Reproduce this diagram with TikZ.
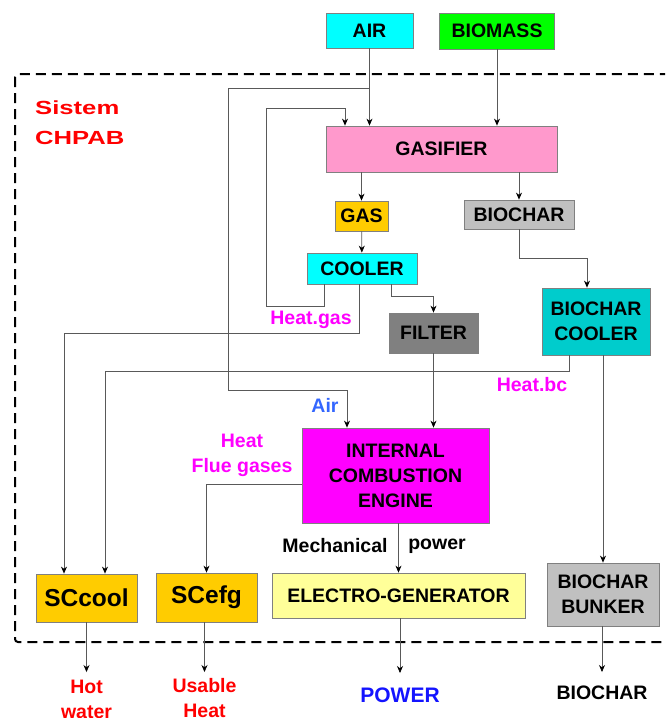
\documentclass[tikz,border=0pt]{standalone}
\usepackage{fontspec}
\setmainfont{Liberation Sans}
\newfontfamily\widefont{Liberation Sans}[FakeStretch=1.35]
\usetikzlibrary{arrows.meta}
\definecolor{aircyan}{RGB}{0,255,255}
\definecolor{biogreen}{RGB}{0,255,0}
\definecolor{gasifierpink}{RGB}{255,153,204}
\definecolor{gasgold}{RGB}{255,204,0}
\definecolor{charsilver}{RGB}{192,192,192}
\definecolor{filtergray}{RGB}{128,128,128}
\definecolor{coolerteal}{RGB}{0,204,204}
\definecolor{enginemagenta}{RGB}{255,0,255}
\definecolor{genyellow}{RGB}{255,255,153}
\definecolor{heatpink}{RGB}{255,0,255}
\definecolor{airblue}{RGB}{51,102,255}
\definecolor{powerblue}{RGB}{20,20,255}

\begin{document}
\begin{tikzpicture}[x=1pt,y=-1pt,
    font=\fontsize{19.5}{25}\selectfont\bfseries,
    unit/.style={draw=black!50, line width=0.8pt, align=center, inner sep=0pt},
    flow/.style={draw=black!65, line width=0.7pt, -{Stealth[length=7pt,width=6pt,color=black]}},
    lbl/.style={align=center, inner sep=0pt},
    outlbl/.style={align=center, anchor=north, inner xsep=0pt, inner ysep=7pt}]
  \useasboundingbox (0,0) rectangle (665,718);
  \clip (0,0) rectangle (665,718);
  % system border
  \draw[line width=2pt, dash pattern=on 10pt off 6pt, rounded corners=3pt] (15,74) rectangle (690,642);
  \node[lbl, text=red, anchor=west, align=left, font={\widefont\fontsize{19}{30}\selectfont\bfseries}] (sys) at (35,123) {Sistem\\CHPAB};
  % units
  \node[unit, fill=aircyan, minimum width=87, minimum height=35] (air) at (369.5,30.5) {AIR};
  \node[unit, fill=biogreen, minimum width=115, minimum height=36] (biomass) at (497,31) {BIOMASS};
  \node[unit, fill=gasifierpink, minimum width=231, minimum height=46] (gasifier) at (441.5,149) {GASIFIER};
  \node[unit, fill=gasgold, minimum width=53, minimum height=30] (gas) at (361.5,216) {GAS};
  \node[unit, fill=charsilver, minimum width=110, minimum height=29] (bc) at (519,214.5) {BIOCHAR};
  \node[unit, fill=aircyan, minimum width=110, minimum height=31] (cooler) at (362,268.5) {COOLER};
  \node[unit, fill=filtergray, minimum width=89, minimum height=40] (filter) at (433.5,333) {FILTER};
  \node[unit, fill=coolerteal, minimum width=108, minimum height=67] (bcool) at (596,321.5) {BIOCHAR\\COOLER};
  \node[unit, fill=enginemagenta, minimum width=187, minimum height=95] (ice) at (395.5,475.5) {INTERNAL\\COMBUSTION\\ENGINE};
  \node[unit, fill=gasgold, minimum width=101, minimum height=48, font=\fontsize{24.5}{28}\selectfont\bfseries] (sccool) at (86.5,598) {SCcool};
  \node[unit, fill=gasgold, minimum width=101, minimum height=49, font=\fontsize{24.5}{28}\selectfont\bfseries] (scefg) at (206.5,597.5) {SCefg};
  \node[unit, fill=genyellow, minimum width=253, minimum height=45] (electro) at (398.5,595.5) {ELECTRO-GENERATOR};
  \node[unit, fill=charsilver, minimum width=112, minimum height=63] (bunker) at (603,594.5) {BIOCHAR\\BUNKER};
  % labels on the streams
  \node[lbl, text=heatpink] (heatgas) at (311,320) {Heat.gas};
  \node[lbl, text=heatpink] (heatbc) at (532,385) {Heat.bc};
  \node[lbl, text=airblue] (airlbl) at (325,405) {Air};
  \node[lbl, text=heatpink] (heatfg) at (242,455) {Heat\\Flue gases};
  \node[lbl] (mech) at (335,546) {Mechanical};
  \node[lbl] (mpower) at (437,546) {power};
  % products
  \node[outlbl, text=red, inner ysep=8pt] (hot) at (86.5,672) {Hot\\water};
  \node[outlbl, text=red, inner ysep=6pt] (usable) at (204.5,672) {Usable\\Heat};
  \node[outlbl, text=powerblue, inner ysep=15pt, font=\fontsize{21}{25}\selectfont\bfseries] (power) at (400,673) {POWER};
  \node[outlbl, inner ysep=14pt] (charout) at (602,672) {BIOCHAR};
  % streams
  \draw[flow] (air) -- (air.south |- gasifier.north);
  \coordinate (airsplit) at ([yshift=-40pt]air.south);
  \coordinate (airbend) at (228,390);
  \draw[flow] (airsplit) -| (airbend) -| ([xshift=-48.5pt]ice.north);
  \draw[flow] (biomass) -- (biomass.south |- gasifier.north);
  \draw[flow] (gas.north |- gasifier.south) -- (gas);
  \draw[flow] (bc.north |- gasifier.south) -- (bc);
  \draw[flow] (gas) -- (cooler);
  \coordinate (loopleft) at (266,306);
  \draw[flow] ([xshift=-38pt]cooler.south) |- (loopleft) |- ([xshift=-96.5pt,yshift=17pt]gasifier.north) -- ([xshift=-96.5pt]gasifier.north);
  \draw[flow] ([xshift=29pt]cooler.south) -- ++(0,12) -| (filter);
  \draw[flow] ([xshift=-3pt]cooler.south) -- ++(0,49) -| ([xshift=-22.5pt]sccool.north);
  \draw[flow] (bc.south) -- ++(0,29) -| ([xshift=-9pt]bcool.north);
  \draw[flow] (filter) -- (filter.south |- ice.north);
  \draw[flow] ([xshift=-27pt]bcool.south) -- ++(0,16) -| ([xshift=18.5pt]sccool.north);
  \draw[flow] (bunker.north |- bcool.south) -- (bunker);
  \draw[flow] ([yshift=-8.5pt]ice.west) -| (scefg);
  \draw[flow] (electro.north |- ice.south) -- (electro);
  \draw[flow] (sccool) -- (hot);
  \draw[flow] (usable.north |- scefg.south) -- (usable);
  \draw[flow] (power.north |- electro.south) -- (power);
  \draw[flow] (charout.north |- bunker.south) -- (charout);
\end{tikzpicture}
\end{document}
